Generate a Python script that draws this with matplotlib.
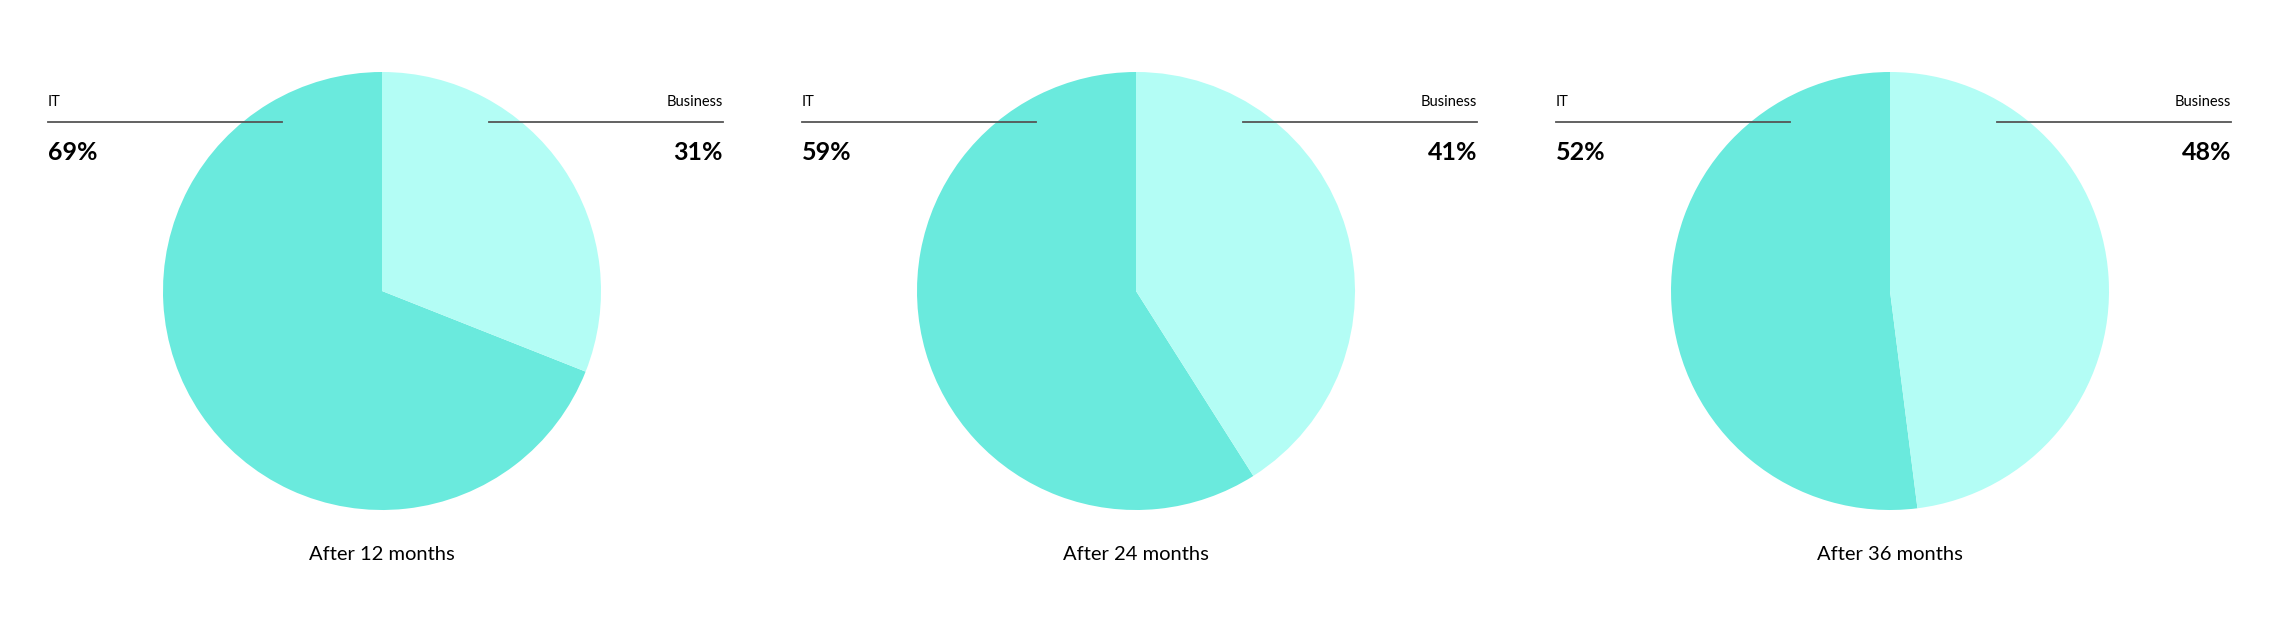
import matplotlib.pyplot as plt
from matplotlib.lines import Line2D

plt.rcParams['font.family'] = ['Lato', 'DejaVu Sans']

periods = ["After 12 months", "After 24 months", "After 36 months"]
it_share = [69, 59, 52]
business_share = [31, 41, 48]
labels = ["IT", "Business"]

IT_COLOR = "#6aeadd"
BUS_COLOR = "#b3fdf5"
W, H = 2280, 640

fig = plt.figure(figsize=(W / 100, H / 100), dpi=100)


def fx(px):
    return px / W


def fy(py):
    return 1 - py / H


R = 219
for i in range(3):
    off = i * 754
    cx, cy = 382 + off, 291
    ax = fig.add_axes([fx(cx - R), fy(cy + R), 2 * R / W, 2 * R / H])
    ax.pie([it_share[i], business_share[i]], colors=[IT_COLOR, BUS_COLOR],
           startangle=90, counterclock=True,
           wedgeprops=dict(linewidth=0))
    ax.set_xlim(-1, 1)
    ax.set_ylim(-1, 1)
    ax.set_aspect('equal')

    # labels and leader lines
    fig.add_artist(Line2D([fx(48 + off), fx(282 + off)], [fy(122), fy(122)],
                          color="#555555", lw=1.3, transform=fig.transFigure, zorder=5))
    fig.add_artist(Line2D([fx(489 + off), fx(723 + off)], [fy(122), fy(122)],
                          color="#555555", lw=1.3, transform=fig.transFigure, zorder=5))
    fig.text(fx(48 + off), fy(102), labels[0], fontsize=10.5, ha='left', va='center')
    fig.text(fx(723 + off), fy(102), labels[1], fontsize=10.5, ha='right', va='center')
    fig.text(fx(48 + off), fy(152), f"{it_share[i]}%", fontsize=18, fontweight='bold',
             ha='left', va='center')
    fig.text(fx(723 + off), fy(152), f"{business_share[i]}%", fontsize=18, fontweight='bold',
             ha='right', va='center')
    fig.text(fx(cx), fy(554), periods[i], fontsize=14.5, ha='center', va='center')

fig.savefig("out.png", dpi=100, facecolor='white')
